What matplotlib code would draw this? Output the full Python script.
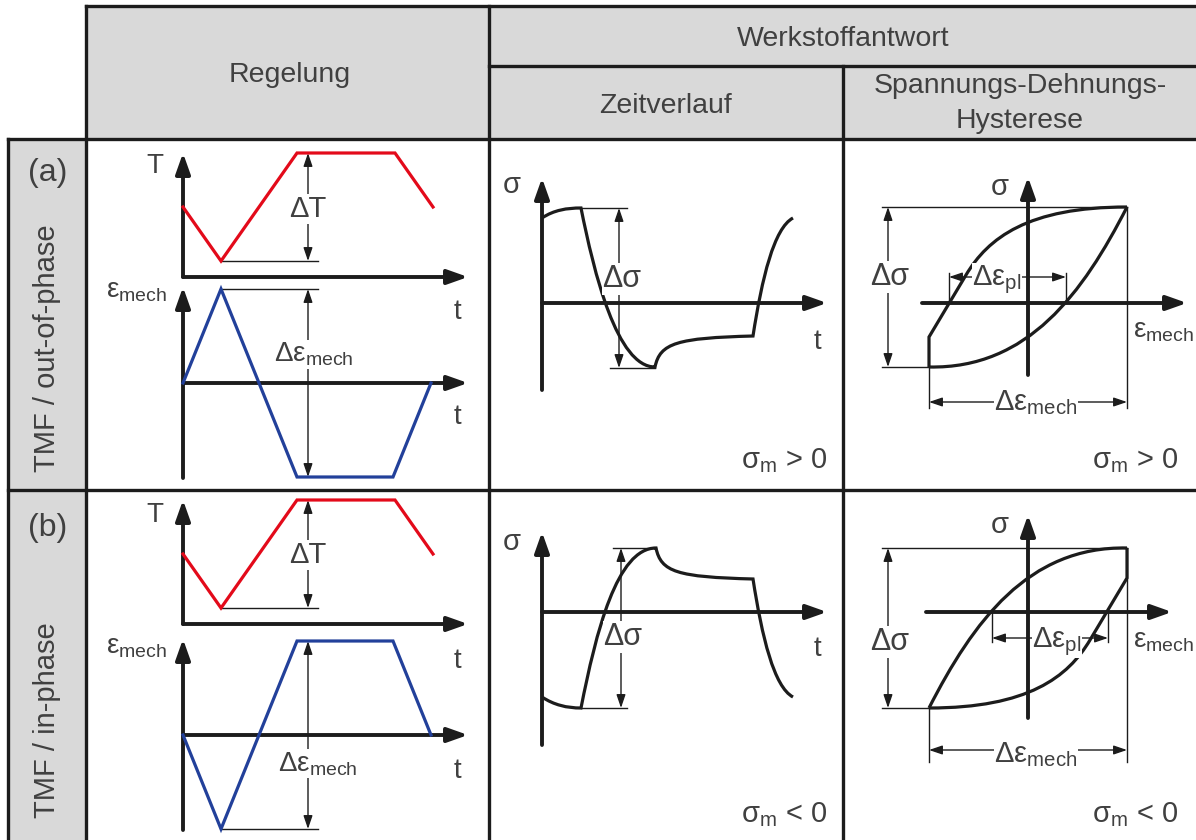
import numpy as np
import matplotlib.pyplot as plt
from matplotlib.path import Path
from matplotlib.patches import PathPatch, Rectangle

plt.rcParams['font.family'] = ['Liberation Sans', 'DejaVu Sans']
plt.rcParams['mathtext.fontset'] = 'custom'
plt.rcParams['mathtext.rm'] = 'Liberation Sans'
plt.rcParams['mathtext.it'] = 'Liberation Sans'
plt.rcParams['mathtext.default'] = 'regular'

# ---- texts
group_title = "Werkstoffantwort"
col_titles = ["Regelung", "Zeitverlauf", "Spannungs-Dehnungs-\nHysterese"]
row_tags = ["(a)", "(b)"]
row_titles = ["TMF / out-of-phase", "TMF / in-phase"]
mean_stress = [r"$σ_m$ > 0", r"$σ_m$ < 0"]

# ---- Regelung: temperature / mech. strain vs. time
t_T = [0, 38, 114, 212, 250]
T_val = [70, 16, 124, 124, 70]
t_eps = [0, 38, 114, 210, 248]
eps_val = [[0, 94, -94, -94, 0],      # out-of-phase
           [0, -94, 94, 94, 0]]       # in-phase

# ---- Zeitverlauf sigma(t): start point + segments (1 pt = line, 3 pts = cubic)
sig_t = [
    [(0, 85), [(12, 93), (25, 95), (39, 95)], [(52, 30), (75, -64), (113, -64)],
     [(118, -40), (135, -35), (211, -33)], [(220, 25), (232, 75), (251, 85)]],
    [(0, -85), [(12, -93), (25, -96), (39, -96)], [(54, -20), (75, 64), (114, 64)],
     [(119, 40), (135, 35), (211, 33)], [(220, -25), (232, -75), (251, -85)]],
]
sig_t_range = [(95, -65), (64, -96)]

# ---- Hysterese sigma(eps_mech)
loops = [
    [[(-99, -64), [(-99, -34)], [(-62, 28)], [(-40, 65), (0, 96), (99, 96)]],
     [(-99, -64), [(0, -66), (55, 10), (99, 96)]]],
    [[(-99, -96), [(-55, -10), (0, 66), (99, 64)]],
     [(-99, -96), [(0, -96), (40, -65), (62, -28)], [(99, 34)], [(99, 64)]]],
]
loop_corners = [((-99, -64), (99, 96)), ((-99, -96), (99, 64))]
eps_pl = [(-79, 38), (-36, 80)]

# ---- layout (pixels)
W, H = 1196, 840
col_x = [8, 86, 489, 843, W]
row_y = [6, 66, 139, 490, H]
reg_T_org = [(183, 277), (183, 624)]
reg_e_org = [(183, 383), (183, 735)]
sig_org = [(542, 303), (542, 612)]
hys_org = [(1028, 303), (1028, 612)]

INK = '#1c1c1c'
TXT = '#404040'
GRAY = '#d9d9d9'
RED = '#e30a1a'
BLUE = '#22409a'
FS = 20.5
FL = 20
FD = 21

fig = plt.figure(figsize=(W / 100, H / 100), dpi=100)
ax = fig.add_axes([0, 0, 1, 1])
ax.set_xlim(0, W)
ax.set_ylim(H, 0)
ax.axis('off')


def gx(org, xs):
    return org[0] + np.asarray(xs, dtype=float)


def gy(org, ys):
    return org[1] - np.asarray(ys, dtype=float)


def arrow(org, p0, p1, style, lw, ms):
    ax.annotate('', xy=(gx(org, p1[0]), gy(org, p1[1])),
                xytext=(gx(org, p0[0]), gy(org, p0[1])),
                arrowprops=dict(arrowstyle=style, lw=lw, color=INK,
                                shrinkA=0, shrinkB=0, mutation_scale=ms),
                zorder=4)


def axis_arrow(org, p0, p1):
    arrow(org, p0, p1, '-|>,head_length=0.62,head_width=0.22', 2.8, 20)


def dim_arrow(org, p0, p1):
    arrow(org, p0, p1, '<|-|>,head_length=0.5,head_width=0.17', 1.0, 16)


def thin(org, xs, ys):
    ax.plot(gx(org, xs), gy(org, ys), color=INK, lw=1.0, zorder=3)


def curve(org, spec, color=INK, lw=2.3):
    verts = [spec[0]]
    codes = [Path.MOVETO]
    for seg in spec[1:]:
        verts += seg
        codes += [Path.LINETO] if len(seg) == 1 else [Path.CURVE4] * 3
    v = np.array(verts, dtype=float)
    v = np.column_stack([gx(org, v[:, 0]), gy(org, v[:, 1])])
    ax.add_patch(PathPatch(Path(v, codes), fill=False, edgecolor=color,
                           lw=lw, capstyle='butt', joinstyle='miter', zorder=5))


def label(x, y, s, size=FL, ha='center', bg=False, **kw):
    bbox = dict(facecolor='white', edgecolor='none', pad=0.5) if bg else None
    ax.text(x, y, s, fontsize=size, color=TXT, ha=ha, va='baseline',
            bbox=bbox, zorder=6, **kw)


# ---- table
ax.add_patch(Rectangle((col_x[1], row_y[0]), W - col_x[1], row_y[2] - row_y[0],
                       facecolor=GRAY, edgecolor='none', zorder=0))
ax.add_patch(Rectangle((col_x[0], row_y[2]), col_x[1] - col_x[0], H - row_y[2],
                       facecolor=GRAY, edgecolor='none', zorder=0))
tk = dict(color=INK, lw=2.4, zorder=1, solid_capstyle='projecting')
ax.plot([col_x[1], W], [row_y[0]] * 2, **tk)
ax.plot([col_x[2], W], [row_y[1]] * 2, **tk)
ax.plot([col_x[0], W], [row_y[2]] * 2, **tk)
ax.plot([col_x[0], W], [row_y[3]] * 2, **tk)
ax.plot([col_x[0]] * 2, [row_y[2], H], **tk)
ax.plot([col_x[1]] * 2, [row_y[0], H], **tk)
ax.plot([col_x[2]] * 2, [row_y[0], H], **tk)
ax.plot([col_x[3]] * 2, [row_y[1], H], **tk)

label(290, 82, col_titles[0], size=FS)
label(843, 46, group_title, size=FS)
label(666, 113, col_titles[1], size=FS)
label(1020, 93, col_titles[2].split('\n')[0], size=FS)
label(1020, 128, col_titles[2].split('\n')[1], size=FS)

tag_y = [181, 536]
title_y = [348, 720]
for r in range(2):
    label(48, tag_y[r], row_tags[r], size=23)
    ax.text(47, title_y[r], row_titles[r], fontsize=21, color=TXT,
            rotation=90, ha='center', va='center', zorder=6)

# ---- Regelung
T_lab_y = [173, 522]
e_lab_y = [298, 653]
t_lab_y = [(319, 424), (668, 778)]
dT_y = [217, 563]
de_lab = [(314, 362), (318, 771)]
for r in range(2):
    o = reg_T_org[r]
    axis_arrow(o, (0, 0), (0, 124))
    axis_arrow(o, (0, 0), (285, 0))
    ax.plot(gx(o, t_T), gy(o, T_val), color=RED, lw=2.3, zorder=5,
            solid_joinstyle='miter')
    thin(o, [t_T[1], 135], [min(T_val)] * 2)
    dim_arrow(o, (125, min(T_val)), (125, max(T_val)))
    label(155, T_lab_y[r], 'T')
    label(457, t_lab_y[r][0], 't')
    label(308, dT_y[r], 'ΔT', size=FD, bg=True)

    o = reg_e_org[r]
    e = eps_val[r]
    axis_arrow(o, (0, -95), (0, 96))
    axis_arrow(o, (0, 0), (285, 0))
    ax.plot(gx(o, t_eps), gy(o, e), color=BLUE, lw=2.3, zorder=5,
            solid_joinstyle='miter')
    e_ext = e[1]
    thin(o, [t_eps[1], 135], [e_ext] * 2)
    dim_arrow(o, (125, e_ext), (125, -e_ext))
    label(136, e_lab_y[r], r'$ε_{mech}$')
    label(457, t_lab_y[r][1], 't')
    label(de_lab[r][0], de_lab[r][1], r'$Δε_{mech}$', bg=True)

# ---- Zeitverlauf
sv_axis = [(-87, 125), (-133, 80)]
sig_lab_y = [193, 550]
t2_lab_y = [349, 656]
ds_lab = [(622, 287), (623, 645)]
ms_y = [468, 822]
for r in range(2):
    o = sig_org[r]
    axis_arrow(o, (0, sv_axis[r][0]), (0, sv_axis[r][1]))
    axis_arrow(o, (0, 0), (285, 0))
    curve(o, sig_t[r])
    hi, lo = sig_t_range[r]
    if r == 0:
        thin(o, [39, 85], [hi, hi])
        thin(o, [68, 113], [lo, lo])
        dim_arrow(o, (77, lo), (77, hi))
    else:
        thin(o, [71, 114], [hi, hi])
        thin(o, [39, 85], [lo, lo])
        dim_arrow(o, (79, lo), (79, hi))
    label(512, sig_lab_y[r], 'σ', size=FD)
    label(817, t2_lab_y[r], 't')
    label(ds_lab[r][0], ds_lab[r][1], 'Δσ', size=FD + 1, bg=True)
    label(827, ms_y[r], mean_stress[r], size=FS + 0.5, ha='right')

# ---- Hysterese
hx_axis = [(-106, 159), (-102, 144)]
hy_axis = [(-72, 126), (-106, 97)]
hs_lab_y = [195, 533]
he_lab_y = [338, 647]
hds_y = [285, 650]
dem_y = [-99, -138]
dem_ext = [-105, -150]
dem_lab_y = [410, 762]
dpl_y = [26, -26]
dpl_lab = [(997, 285), (1057, 647)]
for r in range(2):
    o = hys_org[r]
    axis_arrow(o, (hx_axis[r][0], 0), (hx_axis[r][1], 0))
    axis_arrow(o, (0, hy_axis[r][0]), (0, hy_axis[r][1]))
    for br in loops[r]:
        curve(o, br)
    (xl, yl), (xr, yr) = loop_corners[r]
    thin(o, [-146, xr], [yr, yr])
    thin(o, [-146, xl], [yl, yl])
    dim_arrow(o, (-140, yl), (-140, yr))
    thin(o, [xl, xl], [yl, dem_ext[r]])
    thin(o, [xr, xr], [yr, dem_ext[r]])
    dim_arrow(o, (xl, dem_y[r]), (xr, dem_y[r]))
    p0, p1 = eps_pl[r]
    ext = 30 if r == 0 else -30
    thin(o, [p0, p0], [0, ext])
    thin(o, [p1, p1], [0, ext])
    dim_arrow(o, (p0, dpl_y[r]), (p1, dpl_y[r]))
    label(1000, hs_lab_y[r], 'σ', size=FD)
    label(1163, he_lab_y[r], r'$ε_{mech}$')
    label(890, hds_y[r], 'Δσ', size=FD + 1, bg=True)
    label(1036, dem_lab_y[r], r'$Δε_{mech}$', size=FD, bg=True)
    label(dpl_lab[r][0], dpl_lab[r][1], r'$Δε_{pl}$', size=FD, bg=True)
    label(1178, ms_y[r], mean_stress[r], size=FS + 0.5, ha='right')

fig.savefig('out.png', dpi=100)
